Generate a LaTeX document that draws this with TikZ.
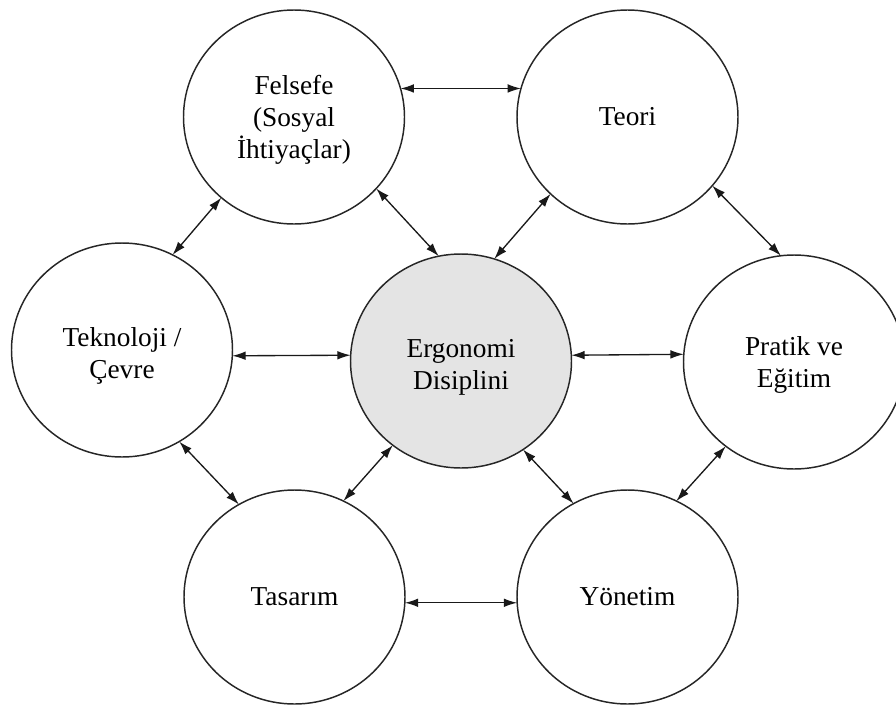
\documentclass[tikz,border=0pt]{standalone}
\usepackage{fontspec}
\setmainfont{Liberation Serif}
\usetikzlibrary{shapes.geometric,arrows.meta}
\definecolor{centerfill}{RGB}{228,228,228}
\newcommand{\lowstack}[2][4pt]{\raisebox{-#1}[\height][\depth]{\begin{tabular}{@{}c@{}}#2\end{tabular}}}
\tikzset{
  topic/.style={ellipse, draw=black!85, line width=1.1pt, minimum width=165.75pt,
    minimum height=160.5pt, inner sep=0pt, outer sep=0pt, align=center,
    font=\fontsize{20.5}{24}\selectfont, fill=white},
  core/.style={topic, fill=centerfill},
  link/.style={{Latex[length=10pt,width=6.5pt]}-{Latex[length=10pt,width=6.5pt]}, line width=1pt, black!90}
}
\begin{document}
\begin{tikzpicture}[x=0.75pt,y=-0.75pt]
\useasboundingbox (0,0) rectangle (896,707);
\clip (0,0) rectangle (896,707);
\node[topic] (F) at (294,117) {\lowstack[2.5pt]{Felsefe\\(Sosyal\\İhtiyaçlar)}};
\node[topic] (T) at (627.5,117) {Teori};
\node[topic] (K) at (122,350) {\lowstack[4.5pt]{Teknoloji /\\Çevre}};
\node[core]  (E) at (461,361) {\lowstack[4.5pt]{Ergonomi\\Disiplini}};
\node[topic] (P) at (794,362) {\lowstack[2pt]{Pratik ve\\Eğitim}};
\node[topic] (S) at (294.5,597) {Tasarım};
\node[topic] (Y) at (627.5,597) {Yönetim};
\draw[link] (F.15) -- (T.165);
\draw[link] (F.228) -- (K.62.7);
\draw[link] (F.319) -- (E.102.2);
\draw[link] (T.225.9) -- (E.72.9);
\draw[link] (T.321.3) -- (P.97.9);
\draw[link] (K.-3) -- (E.177);
\draw[link] (E.3) -- (P.176.5);
\draw[link] (K.302.5) -- (S.121);
\draw[link] (E.231.6) -- (S.63.7);
\draw[link] (E.305) -- (Y.120.6);
\draw[link] (P.231.3) -- (Y.63.2);
\draw[link] (S.-3.5) -- (Y.183.5);
\end{tikzpicture}
\end{document}
